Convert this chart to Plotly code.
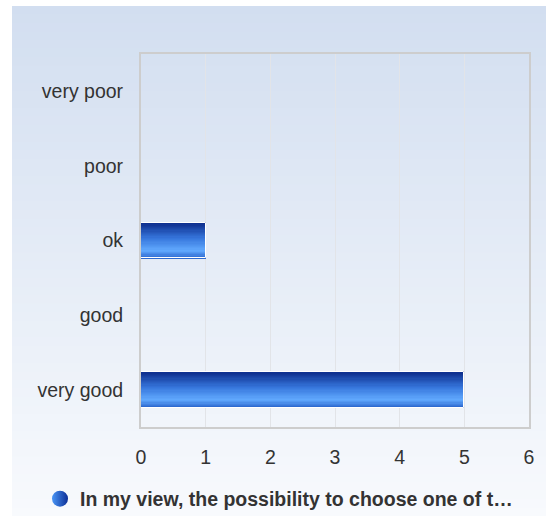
import plotly.graph_objects as go

categories = ["very poor", "poor", "ok", "good", "very good"]
values = [0, 0, 1, 0, 5]
series_name = "In my view, the possibility to choose one of t…"
x_ticks = [0, 1, 2, 3, 4, 5, 6]

W, H = 546, 516
L, T, R, B = 141, 54, 529, 427
PW, PH = R - L, B - T

def px_x(p):
    return (p - L) / PW

def px_y(p):
    return (B - p) / PH

def lerp(c1, c2, t):
    return tuple(round(a + (b - a) * t) for a, b in zip(c1, c2))

def hexrgb(h):
    h = h.lstrip("#")
    return tuple(int(h[i:i + 2], 16) for i in (0, 2, 4))

def grad(stops, t):
    for (t0, c0), (t1, c1) in zip(stops, stops[1:]):
        if t0 <= t <= t1:
            return lerp(hexrgb(c0), hexrgb(c1), (t - t0) / (t1 - t0) if t1 > t0 else 0)
    return hexrgb(stops[-1][1])

fig = go.Figure()

# gradient bars drawn as stacked thin strips
bar_w = 0.48
N = 30
bar_stops = [(0.0, "#0a2886"), (0.45, "#3676dc"), (0.8, "#62aaff"), (1.0, "#2964cc")]
step = bar_w / N
for i in range(N):
    c = grad(bar_stops, (i + 0.5) / N)
    fig.add_trace(go.Bar(
        x=values, y=categories, orientation="h",
        width=step * 1.6 if i < N - 1 else step,
        offset=-bar_w / 2 + i * step,
        marker=dict(color="rgb(%d,%d,%d)" % c, line=dict(width=0)),
        showlegend=False, hoverinfo="skip",
    ))
fig.add_trace(go.Bar(
    x=values, y=categories, orientation="h", width=bar_w,
    marker=dict(color="rgba(0,0,0,0)", line=dict(color="white", width=1)),
    showlegend=False, hoverinfo="skip",
))

# legend entry
fig.add_trace(go.Scatter(
    x=[None], y=[None], mode="markers", name="<b>" + series_name + "</b>",
    marker=dict(symbol="circle", size=17, color="#4a96f6",
                gradient=dict(type="horizontal", color="#0c2f96")),
))

# background gradient strips
shapes = []
bg_top, bg_bot = hexrgb("#d2def0"), hexrgb("#f8fafd")
y0p, y1p = 6, 516
NS = 60
for i in range(NS):
    a = y0p + (y1p - y0p) * i / NS
    b = y0p + (y1p - y0p) * (i + 1) / NS
    c = lerp(bg_top, bg_bot, (i + 0.5) / NS)
    shapes.append(dict(type="rect", xref="paper", yref="paper", layer="below",
                       x0=px_x(12), x1=px_x(W + 2), y0=px_y(b + 0.6), y1=px_y(a),
                       fillcolor="rgb(%d,%d,%d)" % c, line=dict(width=0)))

fig.update_layout(
    width=W, height=H,
    margin=dict(l=L, r=W - R, t=T, b=H - B, pad=0, autoexpand=False),
    paper_bgcolor="white", plot_bgcolor="rgba(0,0,0,0)",
    barmode="overlay", bargap=0,
    shapes=shapes,
    font=dict(family="Liberation Sans, Arial, sans-serif", color="#333333"),
    xaxis=dict(range=[0, 6], tickvals=x_ticks, ticktext=[str(v) for v in x_ticks],
               showgrid=True, gridcolor="#e2e4e8", gridwidth=1, zeroline=False,
               showline=True, linecolor="#cdcdcd", linewidth=2, mirror=True,
               ticks="", tickfont=dict(size=19.5, color="#333333"), ticklabelstandoff=12,
               fixedrange=True),
    yaxis=dict(categoryorder="array", categoryarray=categories, autorange="reversed",
               showgrid=False, zeroline=False,
               showline=True, linecolor="#cdcdcd", linewidth=2, mirror=True,
               ticks="", tickfont=dict(size=19.5, color="#333333"), ticklabelstandoff=12,
               fixedrange=True),
    showlegend=True,
    legend=dict(orientation="h", x=px_x(279), xanchor="center", y=px_y(499), yanchor="middle",
                font=dict(size=19.5, color="#333333", family="Liberation Sans, Arial, sans-serif"),
                bgcolor="rgba(0,0,0,0)", itemsizing="trace"),
)

fig.write_html("out.html", config={"displayModeBar": False},
               post_script="document.body.style.margin='0';")
